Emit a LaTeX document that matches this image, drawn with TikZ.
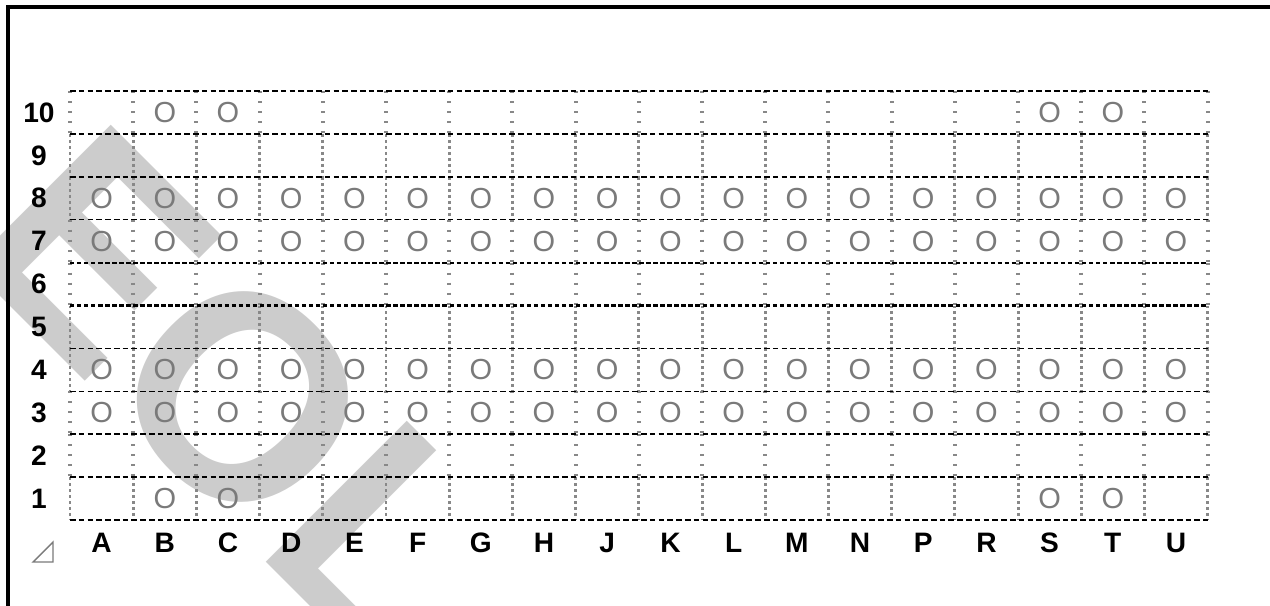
\documentclass[tikz,border=0pt]{standalone}
\usepackage{fontspec}
\setmainfont{Liberation Sans}
\usepackage{xcolor}
\definecolor{holegray}{HTML}{7A7A7A}
\definecolor{dotgray}{HTML}{888888}
\definecolor{markgray}{HTML}{CCCCCC}
\usepackage{tikz}
\tikzset{
    rowlabel/.style = {font=\fontsize{16}{16}\selectfont\bfseries, inner sep=0pt},
    collabel/.style = {font=\fontsize{16}{16}\selectfont\bfseries, inner sep=0pt},
    hole/.style = {font=\fontsize{16.5}{16.5}\selectfont, text=holegray, inner sep=0pt},
    watermark/.style = {font=\fontsize{165}{165}\selectfont\bfseries, text=markgray,
                        inner sep=0pt, anchor=base west, rotate=-45},
    rowline/.style = {black, line width=0.9pt, dash pattern=on 3.2pt off 1.8pt},
    heavyline/.style = {black, line width=1.2pt, dash pattern=on 2.5pt off 1.5pt},
    sparsecol/.style = {dotgray, line width=2.2pt, dash pattern=on 1.1pt off 4.6pt},
    densecol/.style = {dotgray, line width=1.7pt, dash pattern=on 1.7pt off 1.7pt},
    frameline/.style = {black, line width=2.3pt},
}

\begin{document}
\begin{tikzpicture}[x=0.02cm, y=-0.02cm]
    \useasboundingbox (0,0) rectangle (1270,605);
    % watermark behind the grid
    \node[watermark] (mark) at (-44,252) {EOL};
    % frame
    \coordinate (fb) at (8,620);
    \coordinate (fc) at (8,7);
    \coordinate (fr) at (1285,7);
    \draw[frameline] (fb) -- (fc) -- (fr);
    % column lines, row by row
    \foreach \r/\kind in {10/sparsecol, 9/densecol, 8/densecol, 7/sparsecol, 6/sparsecol,
                          5/densecol, 4/densecol, 3/sparsecol, 2/sparsecol, 1/densecol}
        \foreach \i in {0,...,18}
            \draw[\kind] ({70+\i*63.2},{91+(10-\r)*42.9}) -- ({70+\i*63.2},{91+(11-\r)*42.9});
    % row lines
    \foreach \k in {0,...,10} {
        \ifnum\k=4 \def\sty{heavyline}\else\ifnum\k=5 \def\sty{heavyline}\else\def\sty{rowline}\fi\fi
        \draw[\sty] (70,{91+\k*42.9}) -- (1208,{91+\k*42.9});
    }
    % row labels
    \foreach \r in {1,...,10}
        \node[rowlabel] (row-\r) at (39,{91+(10.5-\r)*42.9}) {\r};
    % column labels
    \foreach \c [count=\i] in {A,B,C,D,E,F,G,H,J,K,L,M,N,P,R,S,T,U}
        \node[collabel] (col-\c) at ({70+(\i-0.5)*63.2},543) {\c};
    % full rows of holes
    \foreach \r in {8,7,4,3}
        \foreach \c [count=\i] in {A,B,C,D,E,F,G,H,J,K,L,M,N,P,R,S,T,U}
            \node[hole] (h-\c\r) at ({70+(\i-0.5)*63.2},{91+(10.5-\r)*42.9}) {O};
    % corner holes
    \foreach \r in {10,1}
        \foreach \c/\i in {B/2,C/3,S/16,T/17}
            \node[hole] (h-\c\r) at ({70+(\i-0.5)*63.2},{91+(10.5-\r)*42.9}) {O};
    % corner mark
    \coordinate (t1) at (33,562);
    \coordinate (t2) at (53,562);
    \coordinate (t3) at (53,542);
    \draw[holegray, line width=0.8pt] (t1) -- (t2) -- (t3) -- cycle;
\end{tikzpicture}
\end{document}
